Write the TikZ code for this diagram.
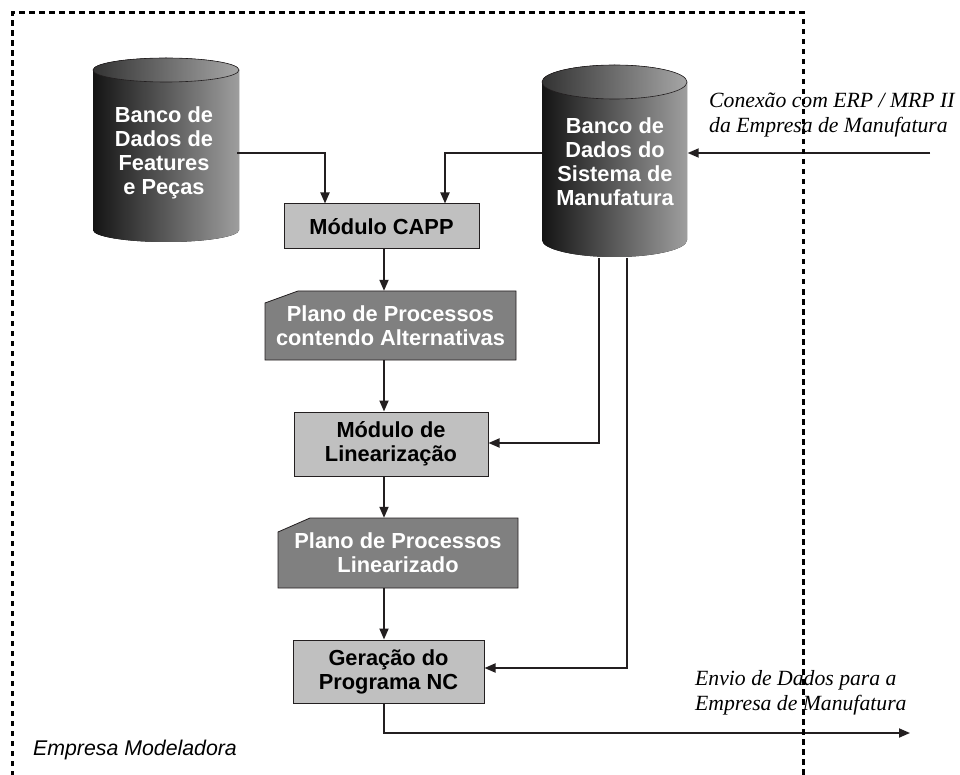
\documentclass[tikz,border=0pt]{standalone}
\usepackage{fontspec}
\setmainfont{Liberation Serif}
\setsansfont{Liberation Sans}
\usetikzlibrary{arrows.meta}
\definecolor{ink}{HTML}{231F20}
\definecolor{lightbox}{HTML}{C0C0C0}
\definecolor{darkbox}{HTML}{808080}
\tikzset{
  boxfont/.style={font=\sffamily\bfseries\fontsize{21.8}{24}\selectfont},
  lbox/.style={boxfont, draw=ink, line width=1pt, fill=lightbox, align=center, inner sep=0pt, text=black},
  pbox/.style={boxfont, text=white, align=center, inner sep=0pt},
  pshape/.style={draw=ink, line width=0.8pt, fill=darkbox},
  conn/.style={draw=ink, line width=1.8pt, -{Triangle[length=11pt,width=9pt]}},
  frameline/.style={draw=black, line width=3pt, dash pattern=on 5.5pt off 4.5pt},
  lbl/.style={font=\itshape\fontsize{21.7}{25}\selectfont, align=left, inner sep=0pt, anchor=west},
  sflbl/.style={font=\sffamily\itshape\fontsize{21.3}{24}\selectfont, inner sep=0pt, anchor=west},
  cyltext/.style={boxfont, text=white, align=center, inner sep=0pt},
  cylbody/.style={left color=black!92, right color=black!38},
  cyltop/.style={draw=ink, line width=0.6pt, left color=black!80, right color=black!35},
}
\newcommand{\mycyl}[5]{%
  \fill[cylbody] ({#1-#4},#2) -- ({#1-#4},#3)
    arc[start angle=180,end angle=360,x radius=#4pt,y radius=#5pt]
    -- ({#1+#4},#2)
    arc[start angle=0,end angle=180,x radius=#4pt,y radius=#5pt] -- cycle;
  \draw[cyltop] (#1,#2) ellipse[x radius=#4pt, y radius=#5pt];
}
% chamfered box: left, top, right, bottom, chamfer x, chamfer y
\newcommand{\mychamf}[6]{%
  \draw[pshape] (#1,#4) -- (#1,{#2-#6}) -- ({#1+#5},#2) -- (#3,#2) -- (#3,#4) -- cycle;
}
\begin{document}
\begin{tikzpicture}[x=1pt,y=1pt]
\useasboundingbox (0,0) rectangle (960,-775);
\fill[white] (0,0) rectangle (960,-775);

% cylinders
\mycyl{166}{-70}{-230}{73}{12}
\mycyl{614.5}{-82}{-240}{72.5}{17}

\node[cyltext, minimum width=146pt, minimum height=185pt] (cylA) at (164,-153)
  {Banco de\\Dados de\\Features\\e Peças};
\node[cyltext, minimum width=145pt, minimum height=192pt] (cylB) at (615,-162)
  {Banco de\\Dados do\\Sistema de\\Manufatura};

% boxes
\node[lbox, minimum width=195pt, minimum height=45pt] (capp) at (381.5,-226.5) {Módulo CAPP};
\mychamf{265}{-291}{516}{-360}{33}{12}
\node[pbox, minimum width=251pt, minimum height=69pt] (plano1) at (390.5,-325.5)
  {Plano de Processos\\contendo Alternativas};
\node[lbox, minimum width=194pt, minimum height=64pt] (lin) at (391,-444) {Módulo de\\Linearização};
\mychamf{278}{-518}{518}{-588}{32}{14}
\node[pbox, minimum width=240pt, minimum height=70pt] (plano2) at (398,-553)
  {Plano de Processos\\Linearizado};
\node[lbox, minimum width=191pt, minimum height=63pt] (ger) at (388.5,-671.5) {Geração do\\Programa NC};

% labels
\node[lbl] (lblin) at (709,-114.5) {Conexão com ERP / MRP II\\da Empresa de Manufatura};
\node[lbl] (lblout) at (695,-692.7) {Envio de Dados para a\\Empresa de Manufatura};
\node[sflbl] (lblemp) at (33,-749.5) {Empresa Modeladora};

% connectors
\coordinate (col) at (384,0);
\coordinate (jA) at (325,-153);
\coordinate (jB) at (445,-153);
\coordinate (inR) at (930,-153);
\coordinate (jL) at (599,-443);
\coordinate (jG) at (627,-668);
\coordinate (outR) at (910,-733);

\draw[conn] (cylA.east |- jA) -- (jA) -- (jA |- capp.north);
\draw[conn] (cylB.west |- jB) -- (jB) -- (jB |- capp.north);
\draw[conn] (inR) -- (cylB.east |- inR);
\draw[conn] (capp.south -| col) -- (plano1.north -| col);
\draw[conn] (plano1.south -| col) -- (lin.north -| col);
\draw[conn] (lin.south -| col) -- (plano2.north -| col);
\draw[conn] (plano2.south -| col) -- (ger.north -| col);
\draw[conn] (jL |- cylB.south) -- (jL) -- (lin.east |- jL);
\draw[conn] (jG |- cylB.south) -- (jG) -- (ger.east |- jG);
\draw[conn] (ger.south -| col) -- (col |- outR) -- (outR);

% frame
\draw[frameline] (12,-776) -- (12,-13) -- (803,-13) -- (803,-776);
\end{tikzpicture}
\end{document}
